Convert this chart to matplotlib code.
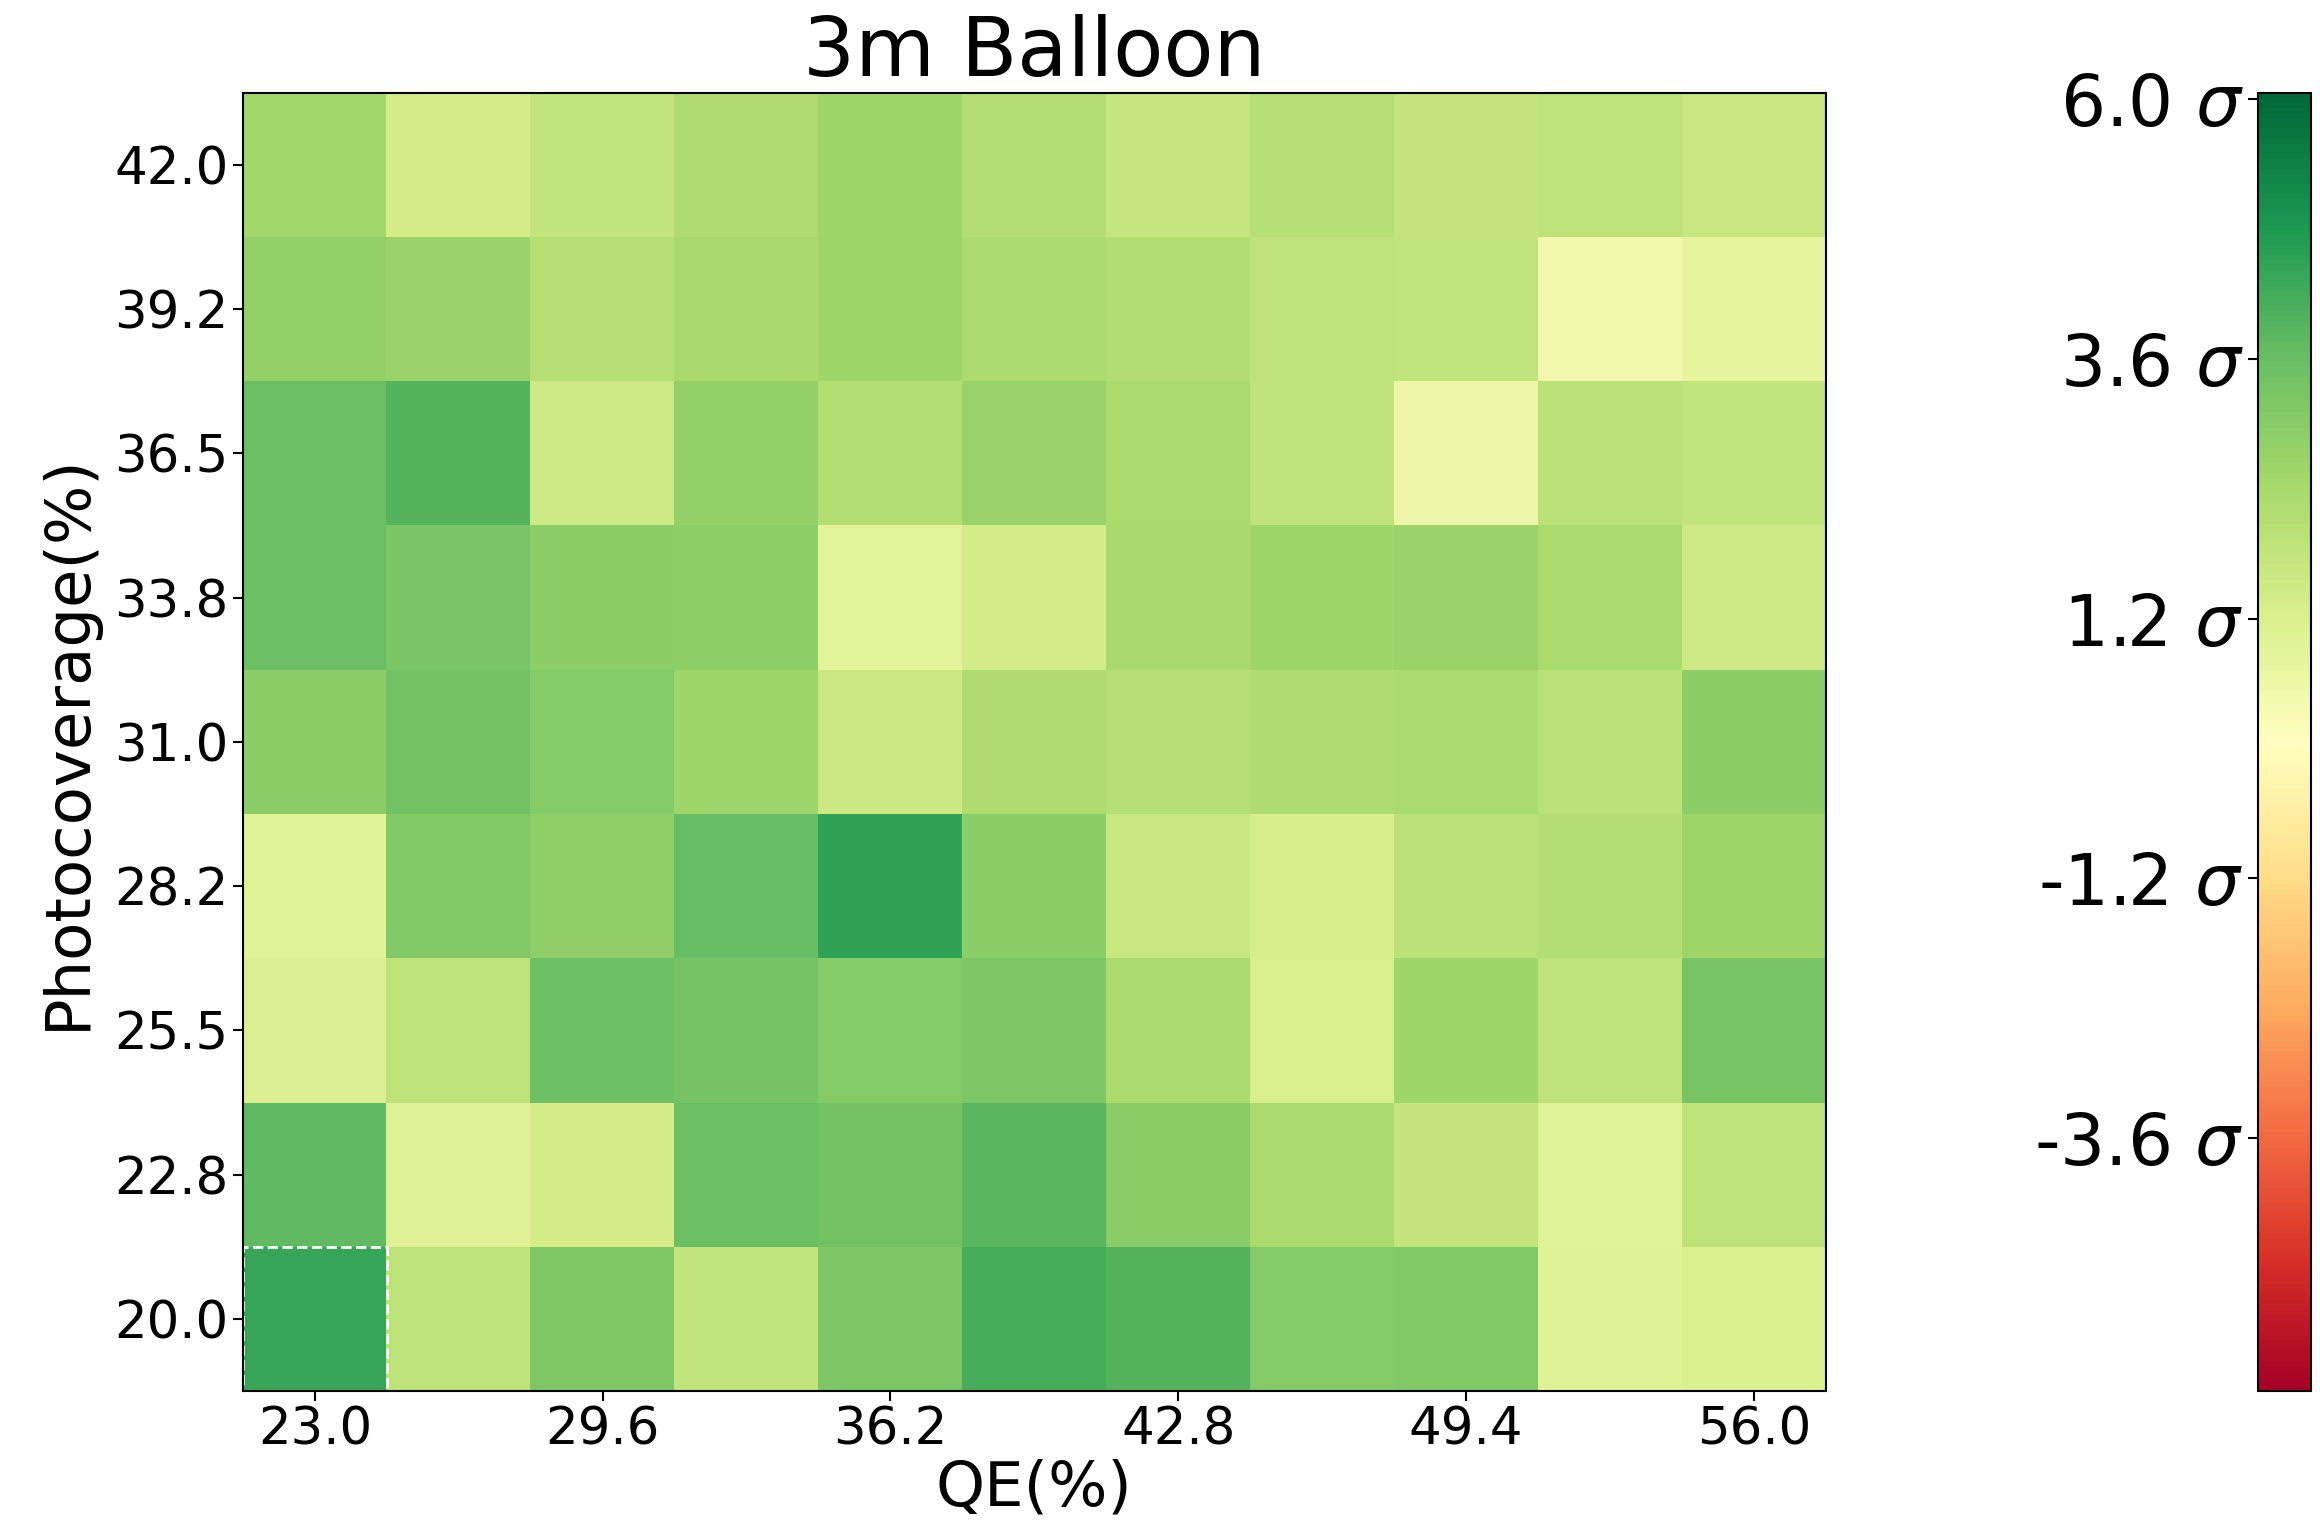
import matplotlib
matplotlib.use('Agg')
import matplotlib.pyplot as plt
import numpy as np
from matplotlib.patches import Rectangle

# axis values
qe = [23.0, 26.3, 29.6, 32.9, 36.2, 39.5, 42.8, 46.1, 49.4, 52.7, 56.0]
coverage = [20.0, 22.75, 25.5, 28.25, 31.0, 33.75, 36.5, 39.25, 42.0]

# significance per cell (rows = photocoverage from 20.0 upward, cols = QE)
row_20_0 = [4.39, 1.93, 3.19, 1.84, 3.22, 4.17, 3.95, 3.08, 3.11, 1.04, 1.17]
row_22_8 = [3.73, 1.04, 1.36, 3.56, 3.41, 3.85, 2.93, 2.31, 1.79, 0.98, 1.93]
row_25_5 = [1.10, 1.93, 3.49, 3.38, 3.08, 3.22, 2.31, 1.27, 2.55, 1.88, 3.30]
row_28_2 = [0.98, 3.11, 2.85, 3.66, 4.48, 2.96, 1.69, 1.32, 1.98, 2.16, 2.63]
row_31_0 = [2.93, 3.41, 3.08, 2.55, 1.60, 2.26, 2.12, 2.26, 2.31, 1.98, 2.93]
row_33_8 = [3.56, 3.26, 2.93, 2.89, 0.92, 1.36, 2.40, 2.55, 2.66, 2.35, 1.55]
row_36_5 = [3.56, 3.92, 1.55, 2.78, 2.16, 2.70, 2.35, 1.88, 0.60, 1.98, 1.84]
row_39_2 = [2.81, 2.70, 2.12, 2.40, 2.59, 2.35, 2.21, 1.88, 1.84, 0.47, 0.85]
row_42_0 = [2.51, 1.34, 1.84, 2.26, 2.59, 2.16, 1.74, 2.12, 1.79, 1.93, 1.69]

cbar_ticks = [-3.6, -1.2, 1.2, 3.6, 6.0]

# colour range of the significance scale
sig_min, sig_max = -5.94, 6.06

# highlighted cell (col, row)
best_cell = (0, 0)

grid = np.array([row_20_0, row_22_8, row_25_5, row_28_2, row_31_0,
                 row_33_8, row_36_5, row_39_2, row_42_0])

fig = plt.figure(figsize=(23.2, 15.21), dpi=100)
ax = fig.add_axes([0.1047, 0.0855, 0.6823, 0.8534])
cax = fig.add_axes([0.9733, 0.0855, 0.0228, 0.8534])

im = ax.imshow(grid, cmap='RdYlGn', vmin=sig_min, vmax=sig_max, origin='lower',
               aspect='auto', interpolation='nearest')

ax.set_xticks(range(0, len(qe), 2))
ax.set_xticklabels(['%.1f' % q for q in qe[::2]])
ax.set_yticks(range(len(coverage)))
ax.set_yticklabels(['%.1f' % c for c in coverage])
ax.tick_params(labelsize=37, length=7, width=1.5)
ax.set_xlabel('QE(%)', fontsize=45, labelpad=2)
ax.set_ylabel('Photocoverage(%)', fontsize=45, labelpad=12)
ax.set_title('3m Balloon', fontsize=59, pad=-1)
for s in ax.spines.values():
    s.set_linewidth(1.5)

# dashed outline on the best cell
cx, cy = best_cell
ax.add_patch(Rectangle((cx - 0.5, cy - 0.5), 1, 1, fill=False,
                       edgecolor='white', linestyle='--', linewidth=2))

cbar = fig.colorbar(im, cax=cax)
cbar.set_ticks(cbar_ticks)
cbar.set_ticklabels(['%.1f $\\sigma$' % t for t in cbar_ticks])
cax.yaxis.set_ticks_position('left')
cax.yaxis.set_label_position('left')
cax.tick_params(labelsize=51, length=7, width=1.5)
cbar.outline.set_linewidth(1.5)

plt.savefig('out.png', dpi=100)
